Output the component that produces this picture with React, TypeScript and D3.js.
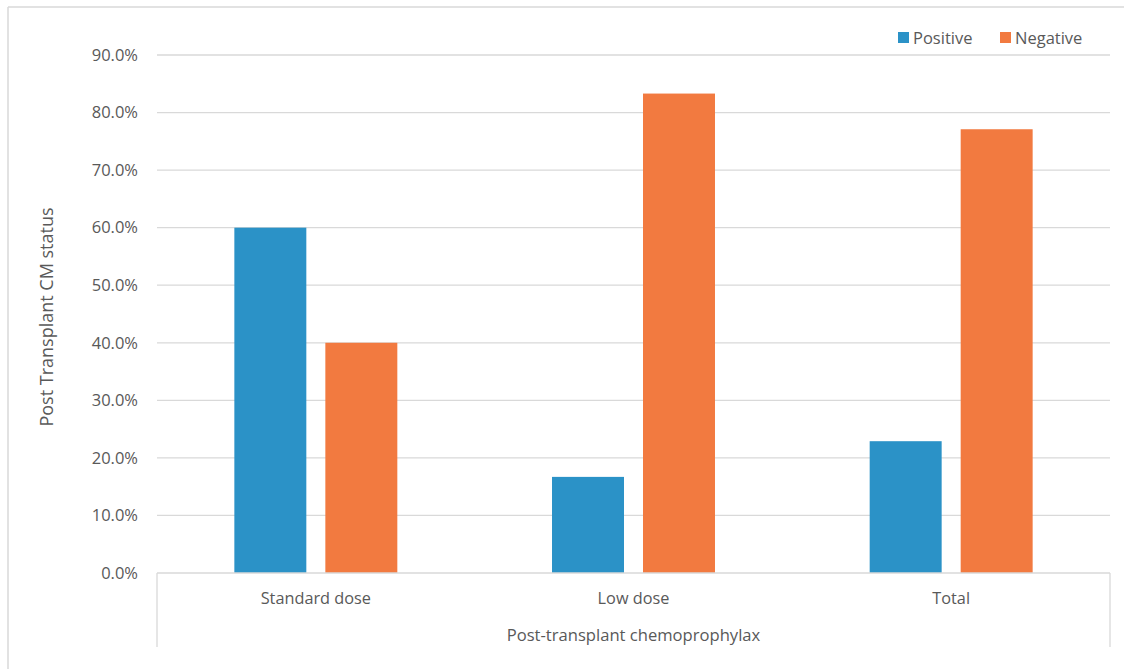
import React from "react";
import * as d3 from "d3";

const categories = ["Standard dose", "Low dose", "Total"];
const seriesNames = ["Positive", "Negative"];
const positiveValues = [60.0, 16.7, 22.9];
const negativeValues = [40.0, 83.3, 77.1];
const yTicks = [0, 10, 20, 30, 40, 50, 60, 70, 80, 90];
const colors = ["#2B92C7", "#F27A40"];
const yTitle = "Post Transplant CM status";
const xTitle = "Post-transplant chemoprophylax";

const W = 1124;
const H = 669;
const left = 157;
const right = 1110;
const top = 55;
const bottom = 573;
const FONT = "'Open Sans', sans-serif";
const TXT = "#595959";

export default function App() {
  const x = d3.scaleBand<string>().domain(categories).range([left, right]).paddingInner(0).paddingOuter(0);
  const y = d3.scaleLinear().domain([0, 90]).range([bottom, top]);
  const inner = d3.scaleBand<string>().domain(seriesNames).range([0, x.bandwidth()]).paddingInner(0.209).paddingOuter(0.85);
  const seriesVals = [positiveValues, negativeValues];

  return (
    <svg width={W} height={H} style={{ position: "absolute", left: 0, top: 0, background: "#fff" }} fontFamily={FONT}>
      <rect x={0} y={0} width={W} height={H} fill="#fff" />
      {/* outer border */}
      <line x1={8} y1={7} x2={W} y2={7} stroke="#d9d9d9" strokeWidth={1.5} />
      <line x1={8} y1={7} x2={8} y2={H} stroke="#d9d9d9" strokeWidth={1.5} />
      {/* gridlines */}
      {yTicks.map((t) => (
        <g key={t}>
          {t > 0 && <line x1={left} x2={right} y1={y(t)} y2={y(t)} stroke="#d9d9d9" strokeWidth={1.3} />}
          <text x={138} y={y(t)} dy="0.35em" textAnchor="end" fontSize={16.5} fill={TXT}>
            {t.toFixed(1) + "%"}
          </text>
        </g>
      ))}
      {/* bars */}
      {seriesNames.map((s, si) =>
        categories.map((c, ci) => (
          <rect
            key={s + c}
            x={(x(c) as number) + (inner(s) as number)}
            y={y(seriesVals[si][ci])}
            width={inner.bandwidth()}
            height={bottom - y(seriesVals[si][ci])}
            fill={colors[si]}
          />
        ))
      )}
      {/* axis box */}
      <line x1={left} x2={right} y1={bottom} y2={bottom} stroke="#d9d9d9" strokeWidth={1.3} />
      <line x1={left} x2={left} y1={bottom} y2={647} stroke="#d9d9d9" strokeWidth={1.3} />
      <line x1={right} x2={right} y1={bottom} y2={647} stroke="#d9d9d9" strokeWidth={1.3} />
      {categories.map((c) => (
        <text key={c} x={(x(c) as number) + x.bandwidth() / 2} y={598} dy="0.35em" textAnchor="middle" fontSize={16.3} fill={TXT}>
          {c}
        </text>
      ))}
      <text x={(left + right) / 2} y={635} dy="0.35em" textAnchor="middle" fontSize={16.6} fill={TXT}>
        {xTitle}
      </text>
      <text transform={`translate(47,317) rotate(-90)`} textAnchor="middle" dy="0.35em" fontSize={18} fill={TXT}>
        {yTitle}
      </text>
      {/* legend */}
      {seriesNames.map((s, i) => {
        const lx = [898, 1000][i];
        return (
          <g key={s}>
            <rect x={lx} y={32} width={11} height={11} fill={colors[i]} />
            <text x={lx + 15} y={38} dy="0.35em" fontSize={16.5} fill={TXT}>
              {s}
            </text>
          </g>
        );
      })}
    </svg>
  );
}
